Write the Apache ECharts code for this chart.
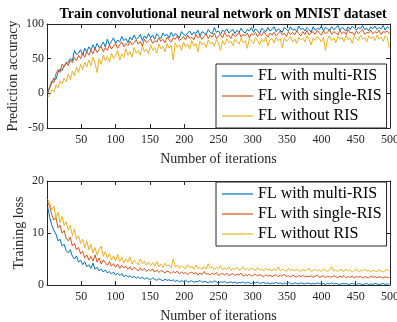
<!DOCTYPE html>
<html>
<head>
<meta charset="utf-8">
<script src="https://cdn.jsdelivr.net/npm/echarts@6/dist/echarts.min.js"></script>
<style>
html, body { margin: 0; padding: 0; background: #fff; }
#container { width: 397px; height: 322px; }
</style>
</head>
<body>
<div id="container"></div>
<script>
var iterations = [
    1,4,7,10,13,16,19,22,25,28, 31,34,37,40,43,46,49,52,55,58,
    61,64,67,70,73,76,79,82,85,88, 91,94,97,100,103,106,109,112,115,118,
    121,124,127,130,133,136,139,142,145,148, 151,154,157,160,163,166,169,172,175,178,
    181,184,187,190,193,196,199,202,205,208, 211,214,217,220,223,226,229,232,235,238,
    241,244,247,250,253,256,259,262,265,268, 271,274,277,280,283,286,289,292,295,298,
    301,304,307,310,313,316,319,322,325,328, 331,334,337,340,343,346,349,352,355,358,
    361,364,367,370,373,376,379,382,385,388, 391,394,397,400,403,406,409,412,415,418,
    421,424,427,430,433,436,439,442,445,448, 451,454,457,460,463,466,469,472,475,478,
    481,484,487,490,493,496,499];

var seriesNames = ['FL with multi-RIS', 'FL with single-RIS', 'FL without RIS'];

var accMulti = [
    0,8,15,22,20,30,35,33,40,42, 45,50,47,62,56,58,63,55,65,60,
    67,62,70,64,72,66,69,74,67,78, 70,75,80,72,77,74,82,76,79,73,
    81,77,84,78,80,85,76,83,79,86, 80,84,78,86,82,79,87,83,85,80,
    88,82,86,84,80,89,85,83,87,90, 84,88,86,91,83,89,87,85,92,88,
    86,95,88,90,85,91,89,93,87,90, 92,86,91,88,94,89,87,92,90,95,
    88,93,90,86,94,91,89,95,90,92, 96,89,93,91,88,95,92,90,96,91,
    93,89,97,92,94,90,95,92,88,96, 91,94,92,97,90,95,93,91,96,92,
    94,98,91,95,93,90,96,92,97,94, 91,95,93,98,92,94,90,96,93,97,
    92,95,93,98,91,96,94];
var accSingle = [
    2,10,18,15,28,34,30,42,38,45, 40,48,44,52,47,55,50,58,52,60,
    55,62,57,65,59,63,68,60,66,62, 70,64,68,72,65,70,74,67,72,69,
    75,70,73,77,71,75,68,78,73,76, 79,72,76,74,80,75,78,73,81,77,
    74,80,78,83,76,79,82,77,84,79, 81,77,85,80,83,78,82,86,79,84,
    81,87,79,83,85,80,88,82,84,79, 86,82,84,88,81,85,83,87,80,86,
    84,88,82,86,83,89,85,81,87,84, 88,83,86,90,84,87,82,89,85,88,
    84,90,86,83,89,85,91,84,87,89, 85,91,87,84,90,86,88,92,85,89,
    87,84,91,86,89,85,92,87,88,84, 90,86,89,92,85,88,87,91,86,89,
    87,91,85,89,88,90,86];
var accNone = [
    -6,-2,5,2,12,8,18,14,22,17, 28,20,32,25,38,30,42,34,45,38,
    48,40,52,44,30,50,42,55,47,53, 45,58,50,55,62,48,57,52,64,55,
    60,52,66,58,62,55,68,60,64,57, 70,62,66,58,71,64,68,60,72,65,
    69,48,73,66,70,62,74,67,71,64, 76,68,72,60,75,70,73,66,77,71,
    74,68,78,72,62,76,70,79,73,75, 69,78,74,71,80,73,76,65,79,75,
    72,80,76,70,78,74,81,68,77,79, 73,81,76,79,66,80,75,78,82,74,
    79,72,81,77,80,74,83,78,70,80, 76,82,79,74,81,62,78,83,76,80,
    73,82,78,81,75,84,77,80,72,83, 79,76,84,78,81,74,83,79,82,76,
    84,78,81,75,83,80,65];

var lossMulti = [
    15,13,11.5,10.5,9.8,8.5,8.8,7.5,7.8,6.6, 6.2,6.8,5.5,5.0,5.6,4.4,4.8,3.9,4.5,3.5,
    3.9,3.2,4.2,3.0,3.4,2.7,3.1,2.5,2.9,2.3, 2.6,2.1,2.5,1.9,2.3,1.8,2.2,1.6,1.9,1.5,
    1.8,1.4,1.7,1.3,1.6,1.2,1.5,1.1,1.4,1.2, 1.0,1.4,1.1,0.9,1.2,1.0,0.8,1.1,0.9,1.0,
    0.8,1.0,0.7,0.9,0.6,0.8,0.7,0.9,0.6,0.7, 0.8,0.5,0.7,0.6,0.9,0.5,0.7,0.6,0.4,0.7,
    0.5,0.8,0.6,0.4,0.6,0.5,0.7,0.4,0.5,0.6, 0.4,0.6,0.3,0.5,0.4,0.6,0.3,0.5,0.4,0.3,
    0.5,0.4,0.6,0.3,0.4,0.5,0.3,0.4,0.2,0.4, 0.3,0.5,0.3,0.4,0.2,0.4,0.3,0.5,0.3,0.2,
    0.4,0.3,0.2,0.4,0.3,0.2,0.4,0.3,0.2,0.3, 0.2,0.4,0.3,0.2,0.3,0.1,0.3,0.2,0.4,0.2,
    0.3,0.2,0.1,0.3,0.2,0.3,0.1,0.2,0.3,0.2, 0.1,0.3,0.2,0.1,0.2,0.3,0.1,0.2,0.1,0.3,
    0.2,0.1,0.2,0.3,0.1,0.2,0.2];
var lossSingle = [
    16,15,13.5,12.5,13,11,11.5,10,10.5,9, 8.5,9.2,7.5,8,6.8,7.2,6,6.5,5.2,5.8,
    4.8,5.5,4.6,5.8,4.4,5.2,4.0,4.8,4.3,3.8, 4.5,3.6,4.1,3.4,4.0,3.2,3.8,3.3,3.6,3.0,
    3.5,2.9,3.4,3.1,2.7,3.3,2.8,3.2,2.6,3.0, 2.7,3.1,2.5,2.9,2.4,2.8,2.6,2.3,2.7,2.5,
    2.2,2.6,2.3,2.7,2.1,2.5,2.2,2.4,2.0,2.3, 2.5,2.1,2.4,1.9,2.3,2.0,2.6,2.1,2.2,1.9,
    2.3,2.0,2.4,1.8,2.1,2.2,1.9,2.3,1.8,2.0, 2.2,1.8,2.1,1.9,2.3,1.7,2.0,1.8,2.1,1.7,
    1.9,2.1,1.7,2.0,1.8,1.6,2.0,1.7,1.9,1.6, 1.8,2.0,1.6,1.9,1.7,2.1,1.6,1.8,1.5,1.9,
    1.7,1.5,1.8,1.6,1.9,1.5,1.7,1.6,1.8,1.5, 1.7,1.9,1.5,1.6,1.8,1.4,1.7,1.6,1.5,1.8,
    1.6,1.4,1.7,1.5,1.8,1.4,1.6,1.5,1.7,1.4, 1.6,1.5,1.7,1.3,1.6,1.5,1.4,1.7,1.5,1.6,
    1.4,1.6,1.5,1.3,1.6,1.4,1.5];
var lossNone = [
    16.5,15.8,14.5,15.2,13,14,12,13.2,11.5,12.2, 10.5,11.5,9.5,10.8,8.8,9.5,8,8.8,7.2,8.5,
    6.8,7.8,6.2,7.2,5.8,6.8,7.5,5.5,6.4,5.2, 6.0,4.8,5.6,4.6,5.9,4.5,5.3,4.2,5.0,4.4,
    5.4,4.0,4.8,4.3,3.9,5.0,4.1,4.6,3.8,4.4, 3.7,4.3,3.6,4.5,3.5,4.0,3.4,4.2,3.6,3.9,
    3.3,5.0,3.5,3.8,3.2,3.7,3.4,3.1,3.9,3.3, 3.6,3.0,3.8,3.2,3.4,3.0,3.6,3.1,4.1,3.2,
    3.5,2.9,3.4,3.1,3.7,2.9,3.3,3.0,3.5,2.8, 3.2,3.0,3.4,2.8,3.1,3.5,2.9,3.2,2.8,3.3,
    3.0,2.8,3.4,2.9,3.1,2.7,3.2,2.9,3.0,2.7, 3.1,2.8,3.5,2.7,3.0,2.9,2.6,3.2,2.8,3.0,
    2.7,3.1,2.8,2.6,3.0,2.7,2.9,3.2,2.6,2.8, 3.0,2.7,2.9,2.6,3.1,2.8,2.6,2.9,3.5,2.7,
    2.9,2.6,3.0,2.8,2.6,3.1,2.7,2.9,2.5,2.8, 3.0,2.6,2.8,2.7,3.1,2.6,2.9,2.5,2.8,2.7,
    2.6,2.9,2.7,2.5,2.8,3.0,2.6];

var colors = ['#0072BD', '#D95319', '#EDB120'];
var font = '"Liberation Serif", "Times New Roman", serif';
var ink = '#262626';

function pairs(vals) {
    return iterations.map(function (x, i) { return [x, vals[i]]; });
}

function xAx(gridIndex, top) {
    return {
        type: 'value', gridIndex: gridIndex, position: top ? 'top' : 'bottom',
        min: 0, max: 500, interval: 50,
        name: top ? '' : 'Number of iterations',
        nameLocation: 'middle', nameGap: 24, nameMoveOverlap: false,
        nameTextStyle: { fontFamily: font, fontSize: 14, color: ink },
        axisLine: { onZero: false, lineStyle: { color: ink, width: 1 } },
        axisTick: { inside: true, length: 4, lineStyle: { color: ink } },
        axisLabel: { show: !top, showMinLabel: false, fontFamily: font, fontSize: 12, color: ink, margin: 6 },
        splitLine: { show: false }
    };
}

function yAx(gridIndex, right, min, max, interval, name, gap) {
    return {
        type: 'value', gridIndex: gridIndex, position: right ? 'right' : 'left',
        min: min, max: max, interval: interval,
        name: right ? '' : name,
        nameLocation: 'middle', nameGap: gap || 20, nameMoveOverlap: false,
        nameTextStyle: { fontFamily: font, fontSize: 14, color: ink },
        axisLine: { show: true, onZero: false, lineStyle: { color: ink, width: 1 } },
        axisTick: { show: true, inside: true, length: 4, lineStyle: { color: ink } },
        axisLabel: { show: !right, fontFamily: font, fontSize: 12, color: ink, margin: 3 },
        splitLine: { show: false }
    };
}

function legendAt(top) {
    return {
        data: seriesNames, orient: 'vertical', left: 216, top: top,
        icon: 'rect', itemWidth: 31, itemHeight: 1.2,
        backgroundColor: '#fff', borderColor: ink, borderWidth: 1, borderRadius: 0,
        padding: [4, 5, 4, 6], itemGap: 4,
        textStyle: { fontFamily: font, fontSize: 16, lineHeight: 16, color: '#000' }
    };
}

var series = [];
[accMulti, accSingle, accNone].forEach(function (v, i) {
    series.push({ name: seriesNames[i], type: 'line', xAxisIndex: 0, yAxisIndex: 0,
        data: pairs(v), symbol: 'none', lineStyle: { width: 1, color: colors[i] },
        itemStyle: { color: colors[i] } });
});
[lossMulti, lossSingle, lossNone].forEach(function (v, i) {
    series.push({ name: seriesNames[i], type: 'line', xAxisIndex: 2, yAxisIndex: 2,
        data: pairs(v), symbol: 'none', lineStyle: { width: 1, color: colors[i] },
        itemStyle: { color: colors[i] } });
});

var myChart = echarts.init(document.getElementById('container'));

option = {
    backgroundColor: '#fff',
    animation: false,
    title: {
        text: 'Train convolutional neural network on MNIST dataset',
        left: 218, top: 2, textAlign: 'center',
        textStyle: { fontFamily: font, fontSize: 14, fontWeight: 'bold', color: '#000' }
    },
    grid: [
        { left: 47, right: 7, top: 24, height: 104, outerBoundsMode: 'none' },
        { left: 47, right: 7, top: 181, height: 104, outerBoundsMode: 'none' }
    ],
    legend: [legendAt(64), legendAt(182)],
    xAxis: [xAx(0, false), xAx(0, true), xAx(1, false), xAx(1, true)],
    yAxis: [
        yAx(0, false, -50, 100, 50, 'Prediction accuracy', 27),
        yAx(0, true, -50, 100, 50, ''),
        yAx(1, false, 0, 20, 10, 'Training loss', 21),
        yAx(1, true, 0, 20, 10, '')
    ],
    series: series
};

if (option && typeof option === "object") {
    myChart.setOption(option, true);
}
</script>
</body>
</html>
